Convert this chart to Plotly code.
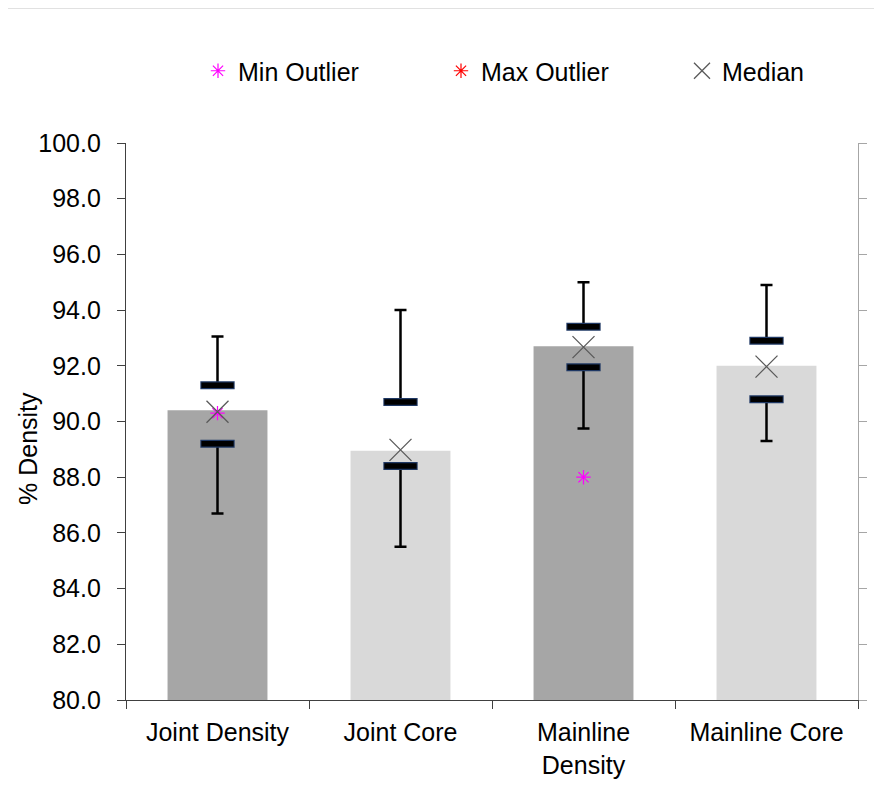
import plotly.graph_objects as go

categories = ["Joint Density", "Joint Core", "Mainline<br>Density", "Mainline Core"]
bar_values = [90.4, 88.95, 92.7, 92.0]
bar_colors = ["#a6a6a6", "#d9d9d9", "#a6a6a6", "#d9d9d9"]
q1_values = [89.2, 88.4, 91.95, 90.8]
q3_values = [91.3, 90.7, 93.4, 92.9]
max_whisker = [93.05, 94.0, 95.0, 94.9]
min_whisker = [86.7, 85.5, 89.75, 89.3]
median_values = [90.35, 88.98, 92.67, 91.97]
min_outliers = [90.3, None, 88.0, None]
max_outliers = [None, None, None, None]
y_ticks = [80 + 2 * i for i in range(11)]

FONT = "Liberation Sans, Arial, sans-serif"
FS = 25

fig = go.Figure()

fig.add_trace(go.Bar(x=categories, y=[v - 80 for v in bar_values], base=80,
                     marker=dict(color=bar_colors, line=dict(width=0)),
                     width=0.546, showlegend=False, hoverinfo="skip"))

# whiskers
fig.add_trace(go.Scatter(x=categories, y=q3_values, mode="markers",
                         marker=dict(size=1, color="rgba(0,0,0,0)"),
                         error_y=dict(type="data", symmetric=False,
                                      array=[m - q for m, q in zip(max_whisker, q3_values)],
                                      arrayminus=[0] * 4, color="black", thickness=2.5, width=6),
                         showlegend=False, hoverinfo="skip"))
fig.add_trace(go.Scatter(x=categories, y=q1_values, mode="markers",
                         marker=dict(size=1, color="rgba(0,0,0,0)"),
                         error_y=dict(type="data", symmetric=False,
                                      array=[0] * 4,
                                      arrayminus=[q - m for m, q in zip(min_whisker, q1_values)],
                                      color="black", thickness=2.5, width=6),
                         showlegend=False, hoverinfo="skip"))

# quartile marks
for vals in (q1_values, q3_values):
    fig.add_trace(go.Scatter(x=categories, y=vals, mode="markers",
                             marker=dict(symbol="line-ew", size=24.5, color="#1f3864",
                                         line=dict(color="#1f3864", width=8)),
                             showlegend=False, hoverinfo="skip"))
    fig.add_trace(go.Scatter(x=categories, y=vals, mode="markers",
                             marker=dict(symbol="line-ew", size=23, color="black",
                                         line=dict(color="black", width=5.5)),
                             showlegend=False, hoverinfo="skip"))

fig.add_trace(go.Scatter(x=categories, y=min_outliers, mode="markers", name="Min Outlier",
                         legend="legend",
                         marker=dict(symbol="asterisk-open", size=12, color="#ff00ff",
                                     line=dict(color="#ff00ff", width=1.2))))
fig.add_trace(go.Scatter(x=categories, y=max_outliers, mode="markers", name="Max Outlier",
                         legend="legend2",
                         marker=dict(symbol="asterisk-open", size=12, color="#ff0000",
                                     line=dict(color="#ff0000", width=1.2))))
fig.add_trace(go.Scatter(x=categories, y=median_values, mode="markers", name="Median",
                         legend="legend3",
                         marker=dict(symbol="x-thin-open", size=22, color="#595959",
                                     line=dict(color="#595959", width=1.3))))

# invisible trace for right axis
fig.add_trace(go.Scatter(x=categories, y=[None] * 4, yaxis="y2", showlegend=False,
                         hoverinfo="skip"))

def leg(xpx):
    return dict(orientation="h", x=(xpx - 126) / 732, y=(700 - 71) / 557,
                xanchor="left", yanchor="middle", font=dict(size=FS),
                bgcolor="rgba(0,0,0,0)", borderwidth=0)

fig.update_layout(
    width=882, height=807,
    margin=dict(l=118, r=32, t=135, b=115, autoexpand=False),
    paper_bgcolor="white", plot_bgcolor="white",
    font=dict(family=FONT, size=FS, color="black"),
    xaxis=dict(type="category", tickson="boundaries", ticks="outside", ticklen=8,
               tickcolor="#404040", showline=True, linecolor="#404040", linewidth=1.3,
               showgrid=False, tickfont=dict(size=FS), range=[-0.5, 3.5], automargin=False,
               ticklabelstandoff=10),
    yaxis=dict(range=[80, 100], tickvals=y_ticks, tickformat=".1f", ticks="outside",
               ticklen=8, tickcolor="#404040", showline=True, linecolor="#404040",
               linewidth=1.3, showgrid=False, zeroline=False, tickfont=dict(size=FS),
               ticklabelstandoff=11, automargin=False),
    yaxis2=dict(range=[80, 100], tickvals=y_ticks, overlaying="y", side="right",
                ticks="outside", ticklen=8, tickcolor="#a6a6a6", showline=True,
                linecolor="#a6a6a6", linewidth=1.3, showgrid=False, zeroline=False,
                showticklabels=False, automargin=False),
    legend=leg(198), legend2=leg(441), legend3=leg(682),
    annotations=[dict(text="% Density", textangle=-90, xref="paper", yref="paper",
                      x=(28 - 126) / 732, y=(700 - 448) / 557, showarrow=False,
                      xanchor="center", yanchor="middle", font=dict(size=FS))],
    shapes=[dict(type="line", xref="paper", yref="paper", x0=-0.1667, x1=1.1,
                 y0=1.2424, y1=1.2424, line=dict(color="#bfbfbf", width=1)),
            dict(type="line", xref="paper", yref="paper", x0=-0.1667, x1=-0.1667,
                 y0=1.2424, y1=-0.3, line=dict(color="#bfbfbf", width=1))],
)

fig.write_html("out.html")
